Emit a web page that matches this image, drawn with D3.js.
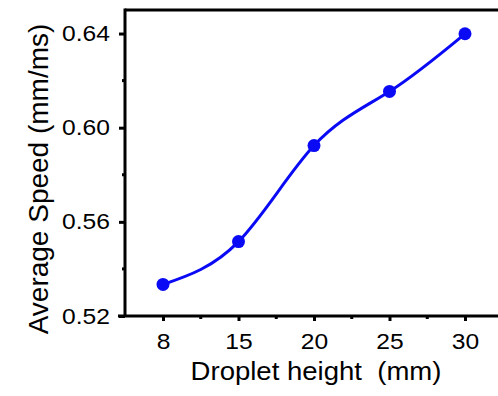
<!DOCTYPE html>
<html>
<head>
<meta charset="utf-8">
<script src="https://cdn.jsdelivr.net/npm/d3@7"></script>
<style>
  body { margin: 0; background: #fff; }
  svg { display: block; font-family: "Liberation Sans", Arial, sans-serif; }
</style>
</head>
<body>
<svg id="chart" width="498" height="396"></svg>
<script>
// chart data
const heights = ['8', '15', '20', '25', '30'];
const speeds = [0.5334, 0.5516, 0.5924, 0.6154, 0.6399];
const yMajor = [0.52, 0.56, 0.60, 0.64];
const yMinor = [0.54, 0.58, 0.62];

const svg = d3.select('#chart');
const plotLeft = 125, plotRight = 498, plotTop = 10, plotBottom = 316;

const x = d3.scalePoint().domain(heights).range([163, 465]);
const y = d3.scaleLinear().domain([0.52, 0.65]).range([plotBottom, plotTop]);

// minor x ticks sit halfway between categories
const xMinor = heights.slice(1).map((h, i) => (x(heights[i]) + x(h)) / 2);

// frame: top line, no right line (cut off)
svg.append('line')
    .attr('x1', plotLeft).attr('x2', plotRight)
    .attr('y1', plotTop).attr('y2', plotTop)
    .attr('stroke', '#000').attr('stroke-width', 3);

// y axis
const yAxis = svg.append('g')
    .attr('transform', `translate(${plotLeft},0)`)
    .call(d3.axisLeft(y).tickValues(yMajor).tickFormat(d3.format('.2f')).tickSize(6).tickSizeOuter(0));
yAxis.select('.domain').attr('stroke-width', 3).attr('d', `M0,${plotBottom}V${plotTop - 1.5}`);
yAxis.selectAll('.tick line').attr('stroke-width', 3);
yAxis.selectAll('.tick text')
    .attr('font-size', 22).attr('x', -13.5).attr('fill', '#000')
    .attr('transform', 'scale(1.12,1)');
yAxis.selectAll('.minor').data(yMinor).enter().append('line')
    .attr('x1', -3).attr('x2', 0)
    .attr('y1', d => y(d)).attr('y2', d => y(d))
    .attr('stroke', '#000').attr('stroke-width', 3);

// x axis
const xAxis = svg.append('g')
    .attr('transform', `translate(0,${plotBottom})`)
    .call(d3.axisBottom(x).tickSize(5).tickSizeOuter(0));
xAxis.select('.domain').attr('stroke-width', 3).attr('d', `M${plotLeft - 7},0H${plotRight}`);
xAxis.selectAll('.tick line').attr('stroke-width', 3);
xAxis.selectAll('.tick text')
    .attr('font-size', 22).attr('y', 17).attr('fill', '#000')
    .attr('transform', 'scale(1.12,1)');
xAxis.selectAll('.minor').data(xMinor).enter().append('line')
    .attr('x1', d => d).attr('x2', d => d)
    .attr('y1', 0).attr('y2', 3)
    .attr('stroke', '#000').attr('stroke-width', 3);

// axis titles
svg.append('text')
    .attr('transform', 'translate(316,380) scale(1.08,1)')
    .attr('text-anchor', 'middle')
    .attr('font-size', 25.5)
    .style('white-space', 'pre')
    .text('Droplet height  (mm)');

svg.append('text')
    .attr('transform', 'translate(48,179) rotate(-90)')
    .attr('text-anchor', 'middle')
    .attr('font-size', 28)
    .text('Average Speed (mm/ms)');

// smoothed line + markers
const pts = heights.map((h, i) => [x(h), y(speeds[i])]);
svg.append('path')
    .attr('d', d3.line().curve(d3.curveNatural)(pts))
    .attr('fill', 'none')
    .attr('stroke', '#0a0af5')
    .attr('stroke-width', 3);

svg.selectAll('.dot').data(pts).enter().append('circle')
    .attr('cx', d => d[0]).attr('cy', d => d[1])
    .attr('r', 6.5)
    .attr('fill', '#0a0af5');
</script>
</body>
</html>
